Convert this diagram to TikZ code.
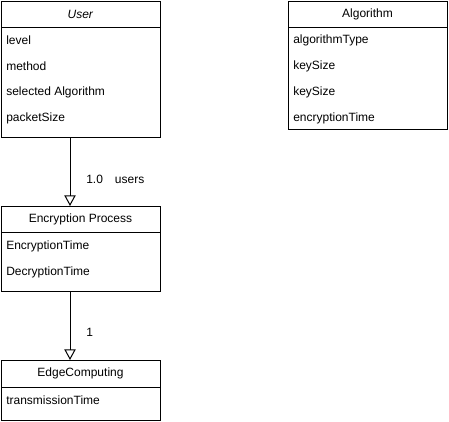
\documentclass[tikz,border=0pt]{standalone}
\usepackage{fontspec}
\setmainfont{Liberation Sans}
\usetikzlibrary{arrows.meta}

\tikzset{
  classbox/.style={draw, line width=0.75pt, anchor=north west, inner sep=0pt, outer sep=0pt, minimum width=119.25pt},
  attr/.style={anchor=west, inner sep=0pt},
  assoc/.style={line width=0.75pt, -{Triangle[open, length=8pt, width=8.5pt]}}
}

\begin{document}
\begin{tikzpicture}[x=0.75pt, y=-0.75pt, font=\fontsize{9}{11}\selectfont]
  \useasboundingbox (0,0) rectangle (449,421);

  \node[classbox, minimum height=102pt] (user) at (1,1) {};
  \draw[line width=0.75pt] (1,27) -- (160,27);
  \node (userT) at (80.5,14) {\textit{User}};
  \node[attr] (userA) at (6,40) {level};
  \node[attr] (userB) at (6,66) {method};
  \node[attr] (userC) at (6,92) {selected Algorithm};
  \node[attr] (userD) at (6,118) {packetSize};

  \node[classbox, minimum height=96pt] (algo) at (288,1) {};
  \draw[line width=0.75pt] (288,27) -- (447,27);
  \node (algoT) at (367.5,14) {Algorithm};
  \node[attr] (algoA) at (293,40) {algorithmType};
  \node[attr] (algoB) at (293,66) {keySize};
  \node[attr] (algoC) at (293,92) {keySize};
  \node[attr] (algoD) at (293,118) {encryptionTime};

  \node[classbox, minimum height=63.75pt] (enc) at (1,206) {};
  \draw[line width=0.75pt] (1,232) -- (160,232);
  \node (encT) at (80.5,219) {Encryption Process};
  \node[attr] (encA) at (6,246) {EncryptionTime};
  \node[attr] (encB) at (6,272) {DecryptionTime};

  \node[classbox, minimum height=45pt] (edge) at (1,360) {};
  \draw[line width=0.75pt] (1,387) -- (160,387);
  \node (edgeT) at (80.5,373) {EdgeComputing};
  \node[attr] (edgeA) at (6,400) {transmissionTime};

  \draw[assoc] (user.south -| 70,0) -- (enc.north -| 70,0);
  \node[attr] (lab1) at (86,179) {1.0\hspace{9pt}users};
  \draw[assoc] (enc.south -| 70,0) -- (edge.north -| 70,0);
  \node[attr] (lab2) at (86,332) {1};
\end{tikzpicture}
\end{document}
